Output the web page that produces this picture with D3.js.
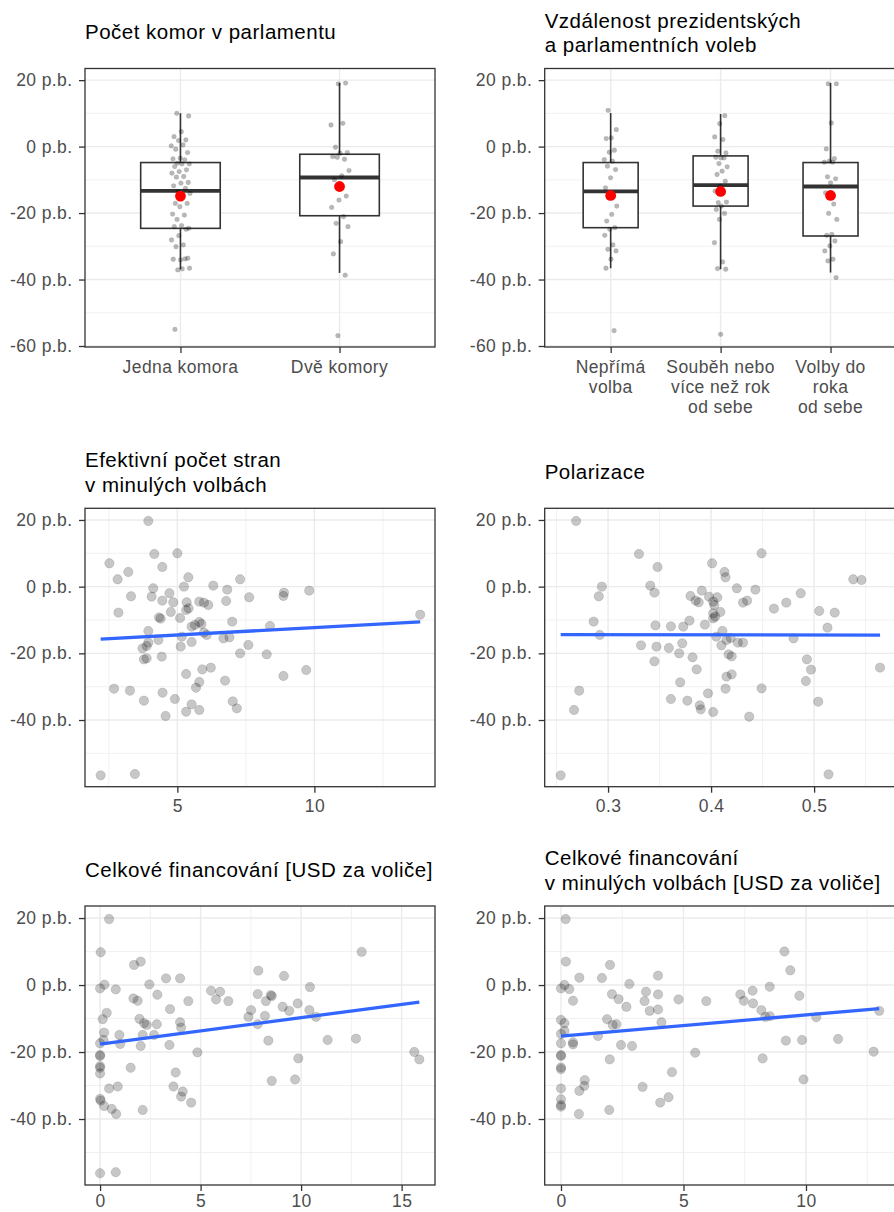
<!DOCTYPE html>
<html>
<head>
<meta charset="utf-8">
<script src="https://cdn.jsdelivr.net/npm/d3@7"></script>
<style>
  body { margin: 0; background: #ffffff; }
  svg { display: block; font-family: "Liberation Sans", Arial, Helvetica, sans-serif; }
</style>
</head>
<body>
<svg id="chart" width="894" height="1212"></svg>
<script>
// ---------- shared axis values ----------
const yTicksBox = [20, 0, -20, -40, -60];
const yTicksScatter = [20, 0, -20, -40];
const yMinorTicks = [10, -10, -30, -50];

// ---------- number of parliamentary chambers ----------
const chamberCategories = ["Jedna komora", "Dvě komory"];
const chamberValues = [
  [10.0, 9.2, 4.5, 3.0, 2.0, 1.8, 0.2, 0.5, -0.8, -1.8, -3.5, -3.7, -4.0, -5.0, -5.2, -5.2, -6.0, -7.0, -7.5, -8.0,
   -9.0, -9.2, -10.8, -11.0, -11.8, -12.6, -13.6, -14.1, -15.1, -17.1, -17.1, -18.1, -20.3, -20.6, -21.9, -24.6,
   -23.8, -24.1, -24.9, -26.8, -28.1, -29.6, -30.1, -33.6, -34.1, -33.9, -33.8, -37.1, -36.6, -36.8, -55.0],
  [19.1, 18.9, 6.5, 7.0, -0.2, -1.8, -2.0, -3.0, -3.8, -3.2, -7.2, -8.8, -10.0, -14.9, -16.1, -18.3, -21.1, -23.1,
   -24.1, -28.6, -32.3, -38.7, -56.9]
];
// [lower whisker, Q1, median, Q3, upper whisker, mean]
const chamberBoxStats = [
  [-36.9, -24.6, -13.3, -4.8, 10.0, -14.9],
  [-38.0, -20.8, -9.3, -2.3, 19.1, -12.0]
];

// ---------- distance between presidential and parliamentary elections ----------
const timingCategories = ["Nepřímá volba", "Souběh nebo více než rok od sebe", "Volby do roka od sebe"];
const timingLabelLines = [["Nepřímá", "volba"], ["Souběh nebo", "více než rok", "od sebe"], ["Volby do", "roka", "od sebe"]];
const timingValues = [
  [10.9, 5.1, 2.6, 2.4, -1.1, -1.7, -3.9, -4.4, -5.9, -6.9, -9.4, -12.4, -14.9, -15.4, -17.9, -20.4, -22.4, -24.4,
   -24.9, -26.7, -29.6, -30.9, -31.4, -33.9, -36.6, -55.4],
  [9.3, 6.9, 2.9, 2.1, -1.4, -1.9, -3.4, -3.2, -3.4, -5.1, -6.1, -7.4, -8.4, -10.4, -11.9, -13.4, -13.9, -16.9,
   -16.7, -17.9, -18.9, -20.1, -21.9, -28.9, -34.7, -36.7, -36.9, -56.5],
  [18.9, 18.9, 7.1, -0.7, -3.6, -4.4, -4.7, -4.7, -9.1, -9.7, -10.9, -13.9, -17.3, -20.1, -21.9, -26.4, -26.7,
   -28.4, -29.9, -31.4, -33.9, -34.4, -39.4]
];
const timingBoxStats = [
  [-36.6, -24.4, -13.5, -4.8, 10.1, -14.7],
  [-36.9, -17.9, -11.6, -2.8, 9.8, -13.5],
  [-37.9, -26.9, -12.0, -4.8, 19.1, -14.7]
];

// ---------- effective number of parties in previous election ----------
const effPartiesPoints = [
  [3.94, 19.7], [4.16, 9.8], [5.0, 10.0], [2.52, 7.0], [3.21, 4.4], [4.45, 5.9], [2.82, 2.2], [5.40, 2.8], [7.29, 2.2],
  [4.12, -0.5], [5.24, 0], [6.31, 0.3], [6.82, -0.9], [9.81, -1.2], [8.89, -1.8], [8.87, -2.8], [3.31, -2.9], [4.06, -3.0],
  [4.71, -2.0], [4.45, -4.2], [4.85, -4.7], [7.62, -3.2], [5.34, -4.7], [5.80, -4.5], [5.97, -4.8], [6.13, -5.5],
  [6.78, -4.3], [5.32, -7.0], [5.41, -6.5], [2.85, -7.8], [4.76, -7.6], [13.86, -8.4], [4.33, -9.2], [4.39, -9.6],
  [5.10, -9.4], [7.0, -10.5], [5.80, -10.6], [5.64, -11.5], [5.52, -12.0], [5.88, -11.2], [8.38, -11.8], [3.94, -13.3],
  [5.97, -13.8], [6.07, -14.5], [5.16, -15.0], [6.68, -15.5], [6.90, -15.2], [4.31, -16.0], [3.94, -16.8], [3.88, -17.8],
  [5.52, -16.6], [7.59, -17.5], [3.73, -18.5], [5.12, -18.0], [4.43, -21.0], [7.29, -20.0], [8.26, -20.3], [3.78, -21.8],
  [3.88, -21.5], [5.32, -26.2], [5.91, -24.8], [6.22, -24.3], [8.87, -26.8], [9.70, -25.0], [5.80, -28.6], [5.68, -30.3],
  [6.74, -28.2], [2.69, -30.6], [3.27, -31.2], [4.46, -31.8], [4.91, -33.7], [3.78, -34.2], [5.52, -35.3], [7.02, -34.4],
  [7.17, -36.5], [5.32, -37.5], [5.80, -37.0], [4.57, -38.8], [2.20, -56.6], [3.45, -56.2]
];

// ---------- polarisation ----------
const polarisationPoints = [
  [0.269, 19.7], [0.330, 9.8], [0.449, 10.0], [0.401, 7.0], [0.348, 5.9], [0.413, 4.4], [0.414, 2.8], [0.538, 2.2],
  [0.546, 2.0], [0.294, 0], [0.341, 0.3], [0.425, -0.5], [0.443, -0.9], [0.391, -1.2], [0.345, -1.8], [0.487, -2.0],
  [0.291, -2.9], [0.380, -2.8], [0.398, -3.0], [0.406, -3.2], [0.385, -4.2], [0.388, -4.7], [0.435, -4.2], [0.431, -4.8],
  [0.473, -4.8], [0.402, -4.5], [0.403, -5.5], [0.461, -6.6], [0.505, -7.3], [0.520, -7.8], [0.409, -7.6], [0.402, -8.0],
  [0.404, -9.0], [0.402, -9.5], [0.286, -10.5], [0.379, -10.2], [0.373, -12.0], [0.361, -11.9], [0.394, -11.4],
  [0.346, -11.6], [0.513, -12.3], [0.292, -14.5], [0.411, -13.3], [0.405, -15.0], [0.419, -15.4], [0.415, -16.0],
  [0.426, -16.8], [0.431, -16.8], [0.480, -15.5], [0.332, -17.6], [0.347, -18.0], [0.359, -18.4], [0.372, -17.0],
  [0.410, -17.6], [0.369, -20.0], [0.417, -20.3], [0.420, -20.9], [0.382, -21.2], [0.345, -22.4], [0.493, -21.8],
  [0.497, -24.9], [0.386, -24.8], [0.564, -24.3], [0.420, -26.3], [0.415, -27.0], [0.370, -28.7], [0.492, -28.3],
  [0.449, -30.5], [0.414, -30.6], [0.272, -31.2], [0.397, -32.0], [0.361, -33.7], [0.377, -34.2], [0.504, -34.5],
  [0.389, -35.6], [0.390, -36.8], [0.267, -37.0], [0.402, -37.6], [0.437, -39.0], [0.254, -56.6], [0.514, -56.3]
];

// ---------- total funding (USD per voter) ----------
const fundingPoints = [
  [0.45, 19.7], [0.03, 9.8], [13.01, 9.9], [2.02, 7.0], [1.69, 6.0], [7.87, 4.3], [9.15, 2.7], [3.28, 2.0], [3.98, 2.0],
  [2.45, 0.2], [0.22, 0.1], [0, -1.0], [0.78, -1.3], [10.44, -0.6], [5.52, -1.7], [5.97, -2.0], [2.85, -2.9], [7.84, -2.7],
  [8.49, -3.0], [8.54, -3.3], [1.66, -4.0], [1.87, -4.7], [4.39, -4.8], [5.77, -4.3], [6.38, -4.8], [8.25, -4.8],
  [9.83, -5.5], [9.08, -6.5], [3.48, -7.2], [7.51, -7.5], [9.41, -7.7], [10.41, -7.5], [0.33, -8.3], [7.38, -9.5],
  [8.20, -9.2], [10.74, -9.5], [0.13, -10.2], [1.96, -10.1], [2.19, -11.4], [2.32, -11.9], [2.82, -11.7], [3.98, -11.1],
  [4.03, -12.7], [7.84, -11.7], [0.20, -14.2], [0.96, -14.9], [2.12, -14.9], [2.69, -14.9], [0.17, -16.4], [0, -17.4],
  [1.0, -17.6], [2.02, -18.2], [3.45, -17.9], [8.37, -16.6], [11.32, -16.4], [12.73, -16.0], [4.84, -20.1], [0, -20.9],
  [0, -21.2], [9.86, -21.9], [15.63, -20.0], [15.88, -22.2], [0, -24.2], [0, -24.7], [0, -26.4], [1.52, -24.7],
  [3.76, -26.1], [8.54, -28.6], [9.70, -28.2], [0.45, -30.9], [0.88, -30.3], [3.65, -30.3], [4.11, -31.8], [4.03, -33.3],
  [0, -34.0], [0.03, -34.5], [0.20, -36.1], [0.58, -37.0], [4.53, -35.1], [2.12, -37.3], [0.80, -38.5], [0, -56.2],
  [0.78, -55.9]
];

// ---------- total funding in previous election (USD per voter) ----------
const fundingPrevPoints = [
  [0.19, 19.7], [9.12, 10.0], [0.20, 7.0], [2.0, 6.0], [9.36, 4.4], [3.96, 2.8], [0.75, 2.2], [1.67, 2.1], [2.79, 0.3],
  [0.14, 0], [0, -1.0], [0.34, -1.2], [7.82, -1.7], [8.52, -0.5], [3.47, -2.0], [2.08, -2.7], [3.96, -2.8], [7.32, -2.8],
  [9.73, -3.2], [0.49, -4.7], [2.35, -4.2], [3.41, -4.8], [4.80, -4.3], [5.93, -4.8], [7.46, -4.7], [7.84, -5.5],
  [2.67, -6.5], [3.62, -7.7], [3.96, -7.3], [8.18, -7.5], [8.34, -9.5], [8.52, -9.3], [10.42, -9.6], [12.99, -7.7],
  [0, -10.4], [0.14, -11.4], [1.88, -10.2], [2.11, -11.9], [2.26, -11.7], [4.10, -11.1], [0, -14.6], [0.14, -13.7],
  [1.51, -15.2], [0, -17.4], [0.49, -17.1], [0.49, -17.7], [2.45, -17.9], [2.90, -18.2], [9.18, -16.6], [9.84, -16.4],
  [11.31, -16.1], [5.48, -20.2], [12.76, -19.9], [0, -20.9], [0, -21.2], [1.99, -22.2], [8.23, -21.9], [0, -24.6],
  [0, -25.1], [4.53, -26.0], [9.90, -28.2], [0.97, -28.4], [0.95, -30.1], [0.75, -31.6], [0, -30.9], [3.33, -30.4],
  [0, -34.1], [0, -35.8], [0, -36.3], [4.39, -33.5], [4.05, -35.1], [1.97, -37.3], [0.73, -38.5]
];

// ---------- drawing ----------
const svg = d3.select("#chart");
const TICK_FONT = 17.5;
const TITLE_FONT = 20.5;
const GREY_TEXT = "#4d4d4d";
const DARK = "#333333";
let clipCounter = 0;

function drawTitle(lines, left, top) {
  const n = lines.length;
  lines.forEach((line, i) => {
    const baseline = n === 1 ? top - 29.5 : top - 16.5 - (n - 1 - i) * 24.5;
    svg.append("text")
      .attr("x", left)
      .attr("y", baseline)
      .attr("font-size", TITLE_FONT)
      .attr("letter-spacing", 0.5)
      .attr("fill", "#000")
      .text(line);
  });
}

// Builds a panel: background grid, y axis, and a clipped group for marks
function makePanel(cfg) {
  const { left, right, top, bottom, yDomain, yTicks } = cfg;
  const y = d3.scaleLinear().domain(yDomain).range([bottom, top]);
  const g = svg.append("g");
  const id = "clip" + (clipCounter++);
  svg.append("clipPath").attr("id", id)
    .append("rect").attr("x", left).attr("y", top).attr("width", right - left).attr("height", bottom - top);

  const grid = g.append("g");
  // minor grid
  grid.selectAll("line.hminor").data(yMinorTicks.filter(v => v > yDomain[0] && v < yDomain[1]))
    .join("line").attr("class", "hminor")
    .attr("x1", left).attr("x2", right).attr("y1", d => y(d)).attr("y2", d => y(d))
    .attr("stroke", "#ebebeb").attr("stroke-width", 0.7);
  (cfg.xMinor || []).forEach(px => {
    grid.append("line").attr("x1", px).attr("x2", px).attr("y1", top).attr("y2", bottom)
      .attr("stroke", "#ebebeb").attr("stroke-width", 0.7);
  });
  // major grid
  grid.selectAll("line.hmajor").data(yTicks)
    .join("line").attr("class", "hmajor")
    .attr("x1", left).attr("x2", right).attr("y1", d => y(d)).attr("y2", d => y(d))
    .attr("stroke", "#ebebeb").attr("stroke-width", 1.4);
  (cfg.xMajor || []).forEach(px => {
    grid.append("line").attr("x1", px).attr("x2", px).attr("y1", top).attr("y2", bottom)
      .attr("stroke", "#ebebeb").attr("stroke-width", 1.4);
  });

  const marks = g.append("g").attr("clip-path", `url(#${id})`);

  // y axis
  const yAxis = d3.axisLeft(y).tickValues(yTicks).tickSize(6).tickPadding(6.5)
    .tickFormat(d => d + " p.b.");
  const ya = svg.append("g").attr("transform", `translate(${left},0)`).call(yAxis);
  styleAxis(ya);

  return { y, marks, finish: () => {
    svg.append("rect").attr("x", left).attr("y", top)
      .attr("width", right - left).attr("height", bottom - top)
      .attr("fill", "none").attr("stroke", DARK).attr("stroke-width", 1.3);
  }};
}

function styleAxis(sel) {
  sel.select(".domain").remove();
  sel.selectAll(".tick line").attr("stroke", DARK).attr("stroke-width", 1.3);
  sel.selectAll(".tick text")
    .attr("font-size", TICK_FONT)
    .attr("letter-spacing", 0.4)
    .attr("fill", GREY_TEXT)
    .attr("font-family", null);
}

// Deterministic spread for jittered points (golden-ratio sequence)
function spread(i) {
  const f = (i * 0.6180339887 + 0.31) % 1;
  return f * 2 - 1;
}

function boxPanel(cfg) {
  const { left, right, top, bottom, categories, values, stats, labelLines, title } = cfg;
  const x = d3.scalePoint().domain(categories).range([left, right]).padding(0.6);
  const step = x.step();
  const p = makePanel({
    left, right, top, bottom,
    yDomain: [-60.3, 23.5], yTicks: yTicksBox,
    xMajor: categories.map(c => x(c))
  });
  const y = p.y;
  const boxW = step * 0.5;

  categories.forEach((c, ci) => {
    const [lo, q1, med, q3, hi] = stats[ci];
    const cx = x(c);
    const bg = p.marks.append("g");
    bg.append("line").attr("x1", cx).attr("x2", cx).attr("y1", y(q3)).attr("y2", y(hi))
      .attr("stroke", DARK).attr("stroke-width", 1.6);
    bg.append("line").attr("x1", cx).attr("x2", cx).attr("y1", y(q1)).attr("y2", y(lo))
      .attr("stroke", DARK).attr("stroke-width", 1.6);
    bg.append("rect").attr("x", cx - boxW / 2).attr("width", boxW)
      .attr("y", y(q3)).attr("height", y(q1) - y(q3))
      .attr("fill", "#ffffff").attr("stroke", DARK).attr("stroke-width", 1.6);
    bg.append("line").attr("x1", cx - boxW / 2).attr("x2", cx + boxW / 2)
      .attr("y1", y(med)).attr("y2", y(med))
      .attr("stroke", DARK).attr("stroke-width", 3.8);
  });

  categories.forEach((c, ci) => {
    const cx = x(c);
    p.marks.append("g").selectAll("circle").data(values[ci]).join("circle")
      .attr("cx", (d, i) => cx + spread(i + ci * 17) * step * 0.06)
      .attr("cy", d => y(d))
      .attr("r", 2.4)
      .attr("fill", "rgba(0,0,0,0.28)")
      .attr("stroke", "rgba(0,0,0,0.12)")
      .attr("stroke-width", 0.6);
  });

  categories.forEach((c, ci) => {
    p.marks.append("circle").attr("cx", x(c)).attr("cy", y(stats[ci][5]))
      .attr("r", 5.4).attr("fill", "#ff0000");
  });

  // x axis
  const xa = svg.append("g").attr("transform", `translate(0,${bottom})`)
    .call(d3.axisBottom(x).tickSize(6).tickFormat(""));
  styleAxis(xa);
  categories.forEach((c, ci) => {
    const t = svg.append("text")
      .attr("x", x(c)).attr("text-anchor", "middle")
      .attr("font-size", TICK_FONT).attr("letter-spacing", 0.4).attr("fill", GREY_TEXT);
    labelLines[ci].forEach((ln, li) => {
      t.append("tspan").attr("x", x(c)).attr("y", bottom + 25.5 + li * 20.2).text(ln);
    });
  });

  p.finish();
  drawTitle(title, left, top);
}

function linearFit(points) {
  const mx = d3.mean(points, d => d[0]);
  const my = d3.mean(points, d => d[1]);
  let sxy = 0, sxx = 0;
  points.forEach(([a, b]) => { sxy += (a - mx) * (b - my); sxx += (a - mx) * (a - mx); });
  const slope = sxy / sxx;
  return { slope, intercept: my - slope * mx };
}

function scatterPanel(cfg) {
  const { left, right, top, bottom, points, xDomain, xTicks, xMinor, yDomain, title, fmt, labelPad } = cfg;
  const x = d3.scaleLinear().domain(xDomain).range([left, right]);
  const p = makePanel({
    left, right, top, bottom, yDomain, yTicks: yTicksScatter,
    xMajor: xTicks.map(x), xMinor: xMinor.map(x)
  });
  const y = p.y;

  p.marks.append("g").selectAll("circle").data(points).join("circle")
    .attr("cx", d => x(d[0])).attr("cy", d => y(d[1]))
    .attr("r", 4.7)
    .attr("fill", "rgba(0,0,0,0.22)")
    .attr("stroke", "rgba(0,0,0,0.13)")
    .attr("stroke-width", 0.9);

  const fit = linearFit(points);
  const ext = d3.extent(points, d => d[0]);
  p.marks.append("line")
    .attr("x1", x(ext[0])).attr("y1", y(fit.intercept + fit.slope * ext[0]))
    .attr("x2", x(ext[1])).attr("y2", y(fit.intercept + fit.slope * ext[1]))
    .attr("stroke", "#3366ff").attr("stroke-width", 3.3);

  const xa = svg.append("g").attr("transform", `translate(0,${bottom})`)
    .call(d3.axisBottom(x).tickValues(xTicks).tickSize(6).tickPadding(labelPad).tickFormat(fmt));
  styleAxis(xa);

  p.finish();
  drawTitle(title, left, top);
}

const LEFT_A = 85, RIGHT_A = 435, LEFT_B = 544.7, RIGHT_B = 896.5;

boxPanel({
  left: LEFT_A, right: RIGHT_A, top: 68.5, bottom: 347,
  categories: chamberCategories, values: chamberValues, stats: chamberBoxStats,
  labelLines: chamberCategories.map(c => [c]),
  title: ["Počet komor v parlamentu"]
});

boxPanel({
  left: LEFT_B, right: RIGHT_B, top: 68.5, bottom: 347,
  categories: timingCategories, values: timingValues, stats: timingBoxStats,
  labelLines: timingLabelLines,
  title: ["Vzdálenost prezidentských", "a parlamentních voleb"]
});

scatterPanel({
  left: LEFT_A, right: RIGHT_A, top: 508.3, bottom: 786.7,
  points: effPartiesPoints, xDomain: [1.63, 14.4], xTicks: [5, 10], xMinor: [2.5, 7.5, 12.5],
  yDomain: [-60, 23.5], fmt: d3.format("d"), labelPad: 7,
  title: ["Efektivní počet stran", "v minulých volbách"]
});

scatterPanel({
  left: LEFT_B, right: 895.5, top: 508.3, bottom: 786.7,
  points: polarisationPoints, xDomain: [0.2385, 0.579], xTicks: [0.3, 0.4, 0.5], xMinor: [0.25, 0.35, 0.45, 0.55],
  yDomain: [-60, 23.5], fmt: d3.format(".1f"), labelPad: 7,
  title: ["Polarizace"]
});

scatterPanel({
  left: LEFT_A, right: RIGHT_A, top: 906, bottom: 1185,
  points: fundingPoints, xDomain: [-0.75, 16.66], xTicks: [0, 5, 10, 15], xMinor: [2.5, 7.5, 12.5],
  yDomain: [-59.7, 23.6], fmt: d3.format("d"), labelPad: 3.5,
  title: ["Celkové financování [USD za voliče]"]
});

scatterPanel({
  left: LEFT_B, right: 895.4, top: 906, bottom: 1185,
  points: fundingPrevPoints, xDomain: [-0.665, 13.65], xTicks: [0, 5, 10], xMinor: [2.5, 7.5, 12.5],
  yDomain: [-59.7, 23.6], fmt: d3.format("d"), labelPad: 3.5,
  title: ["Celkové financování", "v minulých volbách [USD za voliče]"]
});
</script>
</body>
</html>
